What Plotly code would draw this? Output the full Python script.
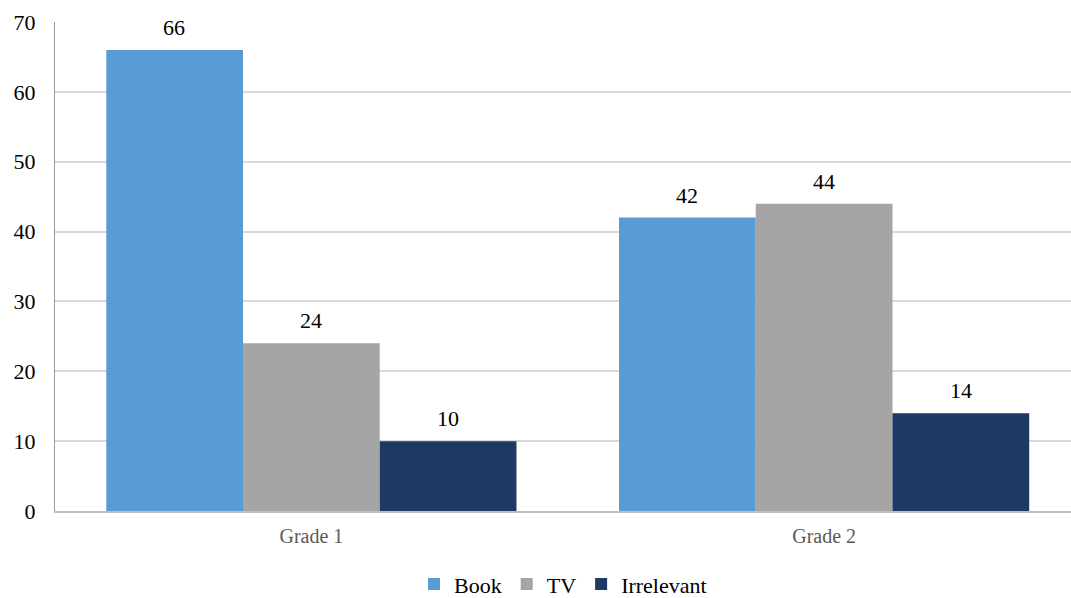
import plotly.graph_objects as go

categories = ["Grade 1", "Grade 2"]
book = [66, 42]
tv = [24, 44]
irrelevant = [10, 14]
y_ticks = [0, 10, 20, 30, 40, 50, 60, 70]

series = [
    ("Book", book, "#5B9BD5"),
    ("TV", tv, "#A5A5A5"),
    ("Irrelevant", irrelevant, "#203864"),
]

SERIF = "Liberation Serif, serif"

fig = go.Figure()
for i, (name, vals, color) in enumerate(series):
    fig.add_trace(go.Bar(
        name=name, x=categories, y=vals, marker_color=color,
        marker_line_width=0,
    ))
    for cat, v in zip(categories, vals):
        fig.add_annotation(
            x=cat, y=v, text=str(v), showarrow=False,
            xref="x", yref="y", xshift=(i - 1) * 137, yshift=8,
            yanchor="bottom",
            font=dict(family=SERIF, size=22, color="#000000"),
        )

fig.update_layout(
    width=1071, height=598,
    margin=dict(l=55, r=0, t=22, b=87, autoexpand=False),
    paper_bgcolor="white", plot_bgcolor="white",
    barmode="group", bargap=0.2, bargroupgap=0,
    font=dict(family=SERIF, color="#000000"),
    showlegend=True,
    legend=dict(orientation="h", x=0.5, xanchor="center",
                yref="container", y=0.058, yanchor="top",
                font=dict(family=SERIF, size=22, color="#000000"),
                itemwidth=30, traceorder="normal"),
)
fig.update_xaxes(
    range=[-0.5, 1.4815], showgrid=False,
    showline=True, linecolor="#bfbfbf", linewidth=1.5,
    tickfont=dict(family=SERIF, size=20, color="#595959"),
    ticks="", ticklabelstandoff=6,
)
fig.update_yaxes(
    range=[0, 70], tickvals=y_ticks,
    showgrid=True, gridcolor="#d9d9d9", gridwidth=1.5,
    showline=True, linecolor="#999999", linewidth=1,
    zeroline=False,
    tickfont=dict(family=SERIF, size=22, color="#000000"),
    ticks="", ticklabelstandoff=14,
)
fig.write_html("out.html")
